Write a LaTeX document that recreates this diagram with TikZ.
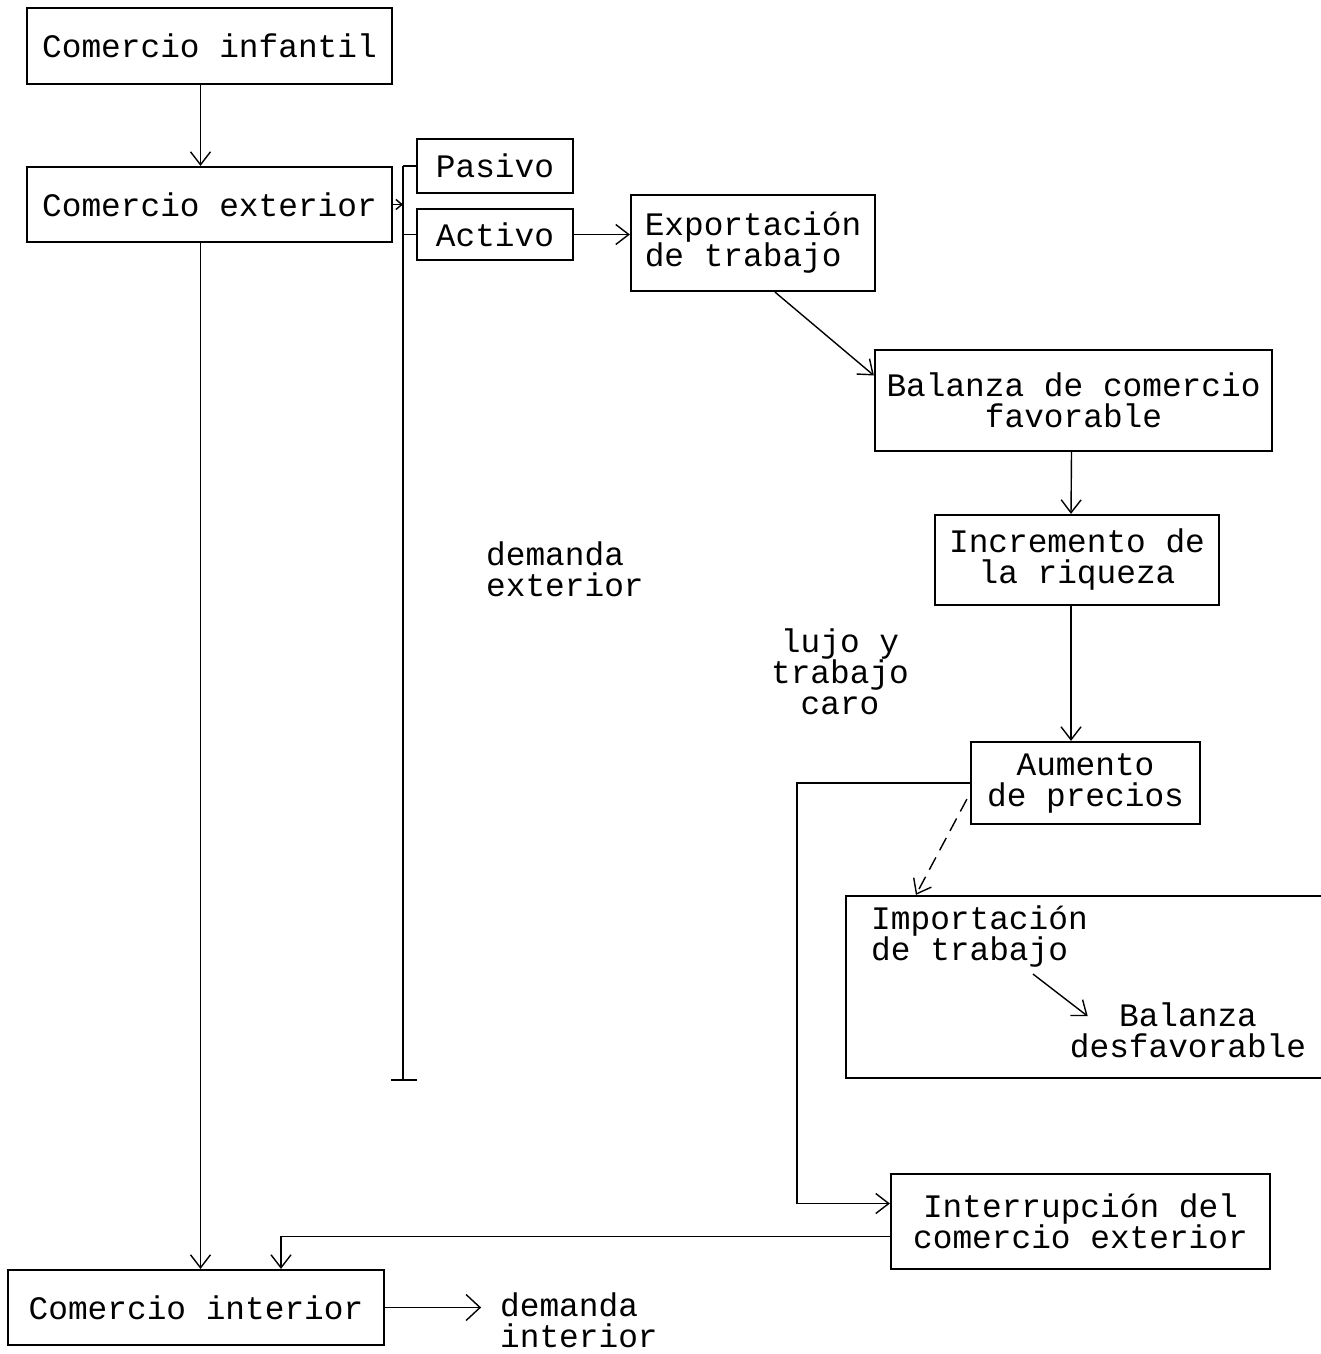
\documentclass[tikz,border=0pt]{standalone}
\usepackage{fontspec}
\setmonofont{Liberation Mono}
\usetikzlibrary{arrows.meta}
\usetikzlibrary{bending}

\begin{document}
\begin{tikzpicture}[x=1pt,y=-1pt,
    caja/.style={draw,line width=2.2pt,inner sep=0pt,align=center},
    txt/.style={inner sep=0pt,align=left},
    flecha/.style={line width=1.4pt,-{Straight Barb[length=13pt,width=20pt]}},
    linea/.style={line width=1.4pt},
    every node/.style={font=\ttfamily\fontsize{32.8}{31}\selectfont}]
    \useasboundingbox (0,0) rectangle (1320,1354);

        % cajas
        \node[caja,minimum width=365pt,minimum height=76pt] (inf) at (209.5,46) {Comercio infantil};
        \node[caja,minimum width=365pt,minimum height=75pt] (ext) at (209.5,204.5) {Comercio exterior};
        \node[caja,minimum width=156pt,minimum height=54pt] (pas) at (495,166) {Pasivo};
        \node[caja,minimum width=156pt,minimum height=51pt] (act) at (495,234.5) {Activo};
        \node[caja,align=left,minimum width=244pt,minimum height=96pt] (exp) at (753,243) {Exportación\\de trabajo};
        \node[caja,minimum width=397pt,minimum height=101pt] (bal) at (1073.5,400.5) {Balanza de comercio\\favorable};
        \node[caja,minimum width=284pt,minimum height=90pt] (inc) at (1077,560) {Incremento de\\la riqueza};
        \node[caja,minimum width=229pt,minimum height=82pt] (aum) at (1085.5,783) {Aumento\\de precios};
        \node[caja,minimum width=479pt,minimum height=182pt] (imp) at (1085.5,987) {};
        \node[caja,minimum width=379pt,minimum height=95pt] (int) at (1080.5,1221.5) {Interrupción del\\comercio exterior};
        \node[caja,minimum width=376pt,minimum height=75pt] (cin) at (196,1307.5) {Comercio interior};

        % textos sueltos
        \node[txt,anchor=west] (impt) at (871,937) {Importación\\de trabajo};
        \node[txt,align=center] (des) at (1188,1030) {Balanza\\desfavorable};
        \node[txt,anchor=west] (dext) at (486,569) {demanda\\exterior};
        \node[txt,align=center] (lujo) at (840,672) {lujo y\\trabajo\\caro};
        \node[txt,anchor=west] (dint) at (500,1320) {demanda\\interior};

        % llave
        \coordinate (bt) at (403,166);
        \coordinate (bb) at (403,1080);
        \coordinate (ia) at ([xshift=-6pt]inc.south);
        \draw[linea](bt)--(bb);
        \draw[linea]([xshift=-12pt]bb)--([xshift=14pt]bb);
        \draw[linea](bt)--(pas.west);
        \draw[linea](act.west -| bt)--(act.west);
        \draw[flecha,-{Straight Barb[length=6pt,width=10pt]}](ext.east)--(ext.east -| bt);

        % flechas
        \draw[flecha]([xshift=-9pt]inf.south)--([xshift=-9pt]ext.north);
        \draw[flecha]([xshift=-9pt]ext.south)--([xshift=-9pt]ext.south |- cin.north);
        \draw[flecha](act.east)--(act.east -| exp.west);
        \draw[flecha]([xshift=22pt]exp.south)--([yshift=25pt]bal.west);
        \draw[flecha]([xshift=-2pt]bal.south)--([xshift=-6pt]inc.north);
        \draw[flecha](ia)--(ia |- aum.north);
        \draw[flecha,dashed,dash pattern=on 14pt off 8pt]([xshift=-3pt,yshift=26pt]aum.south west)--([xshift=71pt]imp.north west);
        \draw[flecha]([xshift=-55pt,yshift=-6pt]impt.south east)--([xshift=18pt,yshift=-14pt]des.north west);
        \draw[flecha](aum.west)--++(-173,0)|-([yshift=18pt]int.west);
        \draw[flecha]([yshift=-15pt]int.west)-|([xshift=85pt]cin.north);
        \draw[flecha,-{Straight Barb[length=14pt,width=26pt]}](cin.east)--++(96,0);
      \end{tikzpicture}
\end{document}
